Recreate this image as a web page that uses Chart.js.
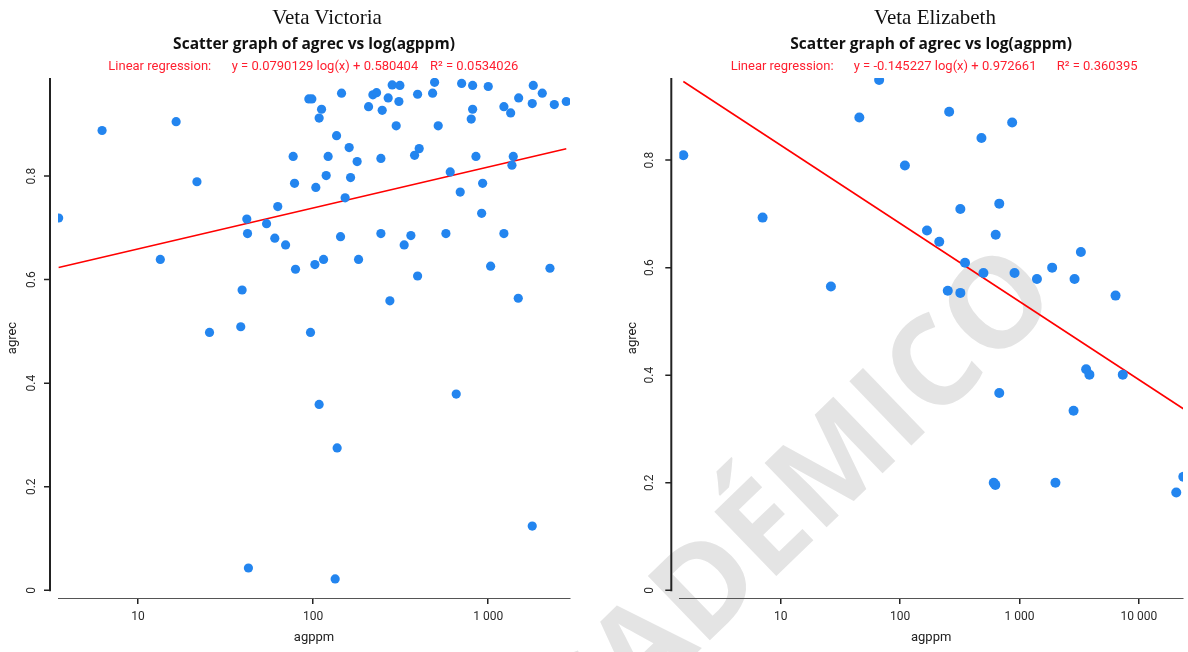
<!DOCTYPE html>
<html>
<head>
<meta charset="utf-8">
<script src="https://cdn.jsdelivr.net/npm/chart.js@4.4.1/dist/chart.umd.min.js"></script>
<style>
  html, body { margin: 0; padding: 0; background: #ffffff; }
  #page { position: relative; width: 1188px; height: 652px; overflow: hidden; background: #ffffff; }
  #stamp { position: absolute; left: 0; top: 0; z-index: 0; }
  .panel { position: absolute; top: 0; height: 652px; z-index: 1; }
  .caption { position: absolute; top: 7px; font-family: "Liberation Serif", "Times New Roman", serif;
             font-size: 21px; line-height: 21px; color: #111; white-space: nowrap; z-index: 2;
             transform: translateX(-50%); }
</style>
</head>
<body>
<div id="page">
  <svg id="stamp" width="1188" height="652">
    <text x="1062" y="300" text-anchor="end" transform="rotate(-44 1062 300)"
          font-family="Open Sans, Noto Sans, sans-serif" font-weight="bold" font-size="125"
          fill="#e4e4e4">ACADÉMICO</text>
  </svg>
  <div class="caption" style="left:327px">Veta Victoria</div>
  <div class="caption" style="left:935px">Veta Elizabeth</div>
  <div class="panel" style="left:0; width:600px"><canvas id="victoria" width="600" height="652"></canvas></div>
  <div class="panel" style="left:600px; width:588px"><canvas id="elizabeth" width="588" height="652"></canvas></div>
</div>
<script>
// Veta Victoria: silver grade (agppm) and recovery (agrec) per sample
const victoriaAgppm = [3.52, 6.23, 13.4, 16.5, 21.7, 25.6, 38.6, 39.3, 41.8, 42.2, 42.7, 54.2, 60.4, 62.8, 69.6,
  76.9, 78.3, 79.3, 94.5, 98.3, 96.6, 103.6, 102.3, 108.2, 111.7, 108.2, 114.7, 118.7, 121.8, 136.1,
  133.6, 137.1, 145.3, 143.4, 152.3, 160.6, 163.6, 178.4, 181.7, 207.3, 219.4, 230.3, 243.8, 243.8,
  248, 268.3, 274.4, 282.8, 298.1, 308.9, 313, 331.1, 361.6, 379.6, 395, 403.4, 395, 481.2, 494,
  518, 573.2, 606.7, 656.4, 691.8, 704.7, 799.6, 814.5, 814.5, 850.6, 917.1, 928.9, 1000, 1032,
  1229, 1229, 1343, 1366, 1390, 1484, 1492, 1784, 1784, 1808, 2035, 2252, 2384, 2791];
const victoriaAgrec = [0.719, 0.888, 0.639, 0.905, 0.789, 0.498, 0.509, 0.580, 0.717, 0.689, 0.043, 0.708, 0.680, 0.741, 0.667,
  0.838, 0.786, 0.620, 0.949, 0.949, 0.498, 0.778, 0.629, 0.912, 0.929, 0.359, 0.639, 0.801, 0.838, 0.878,
  0.022, 0.275, 0.960, 0.683, 0.758, 0.855, 0.797, 0.828, 0.639, 0.934, 0.957, 0.961, 0.834, 0.689,
  0.927, 0.951, 0.559, 0.976, 0.897, 0.944, 0.975, 0.667, 0.685, 0.840, 0.607, 0.853, 0.958, 0.960, 0.981,
  0.897, 0.689, 0.808, 0.379, 0.769, 0.979, 0.910, 0.975, 0.929, 0.838, 0.728, 0.786, 0.973, 0.626,
  0.934, 0.689, 0.922, 0.821, 0.838, 0.564, 0.951, 0.940, 0.124, 0.975, 0.960, 0.622, 0.938, 0.944];
// slope, intercept, R²  (y = slope·log10(x) + intercept)
const victoriaFit = [0.0790129, 0.580404, 0.0534026];

// Veta Elizabeth
const elizabethAgppm = [1.525, 7.04, 26.3, 45.5, 66.7, 109.6, 167.8, 212.7, 250.7, 257.5, 319.5, 319.5, 349.7,
  480, 498.8, 608.5, 627.4, 632, 677, 677, 868, 908.9, 1400, 1878, 2001, 2839, 2893, 3269, 3618, 3854,
  6383, 7337, 20590, 23600];
const elizabethAgrec = [0.809, 0.693, 0.565, 0.879, 0.949, 0.790, 0.669, 0.648, 0.557, 0.890, 0.709, 0.553, 0.609,
  0.841, 0.590, 0.200, 0.196, 0.661, 0.719, 0.367, 0.870, 0.590, 0.579, 0.600, 0.200, 0.334, 0.579, 0.629, 0.411, 0.401,
  0.548, 0.401, 0.182, 0.211];
const elizabethFit = [-0.145227, 0.972661, 0.360395];

// axis ticks
const agrecTicks = [0, 0.2, 0.4, 0.6, 0.8];
const victoriaXTicks = [10, 100, 1000];
const victoriaXLabels = ['10', '100', '1 000'];
const elizabethXTicks = [10, 100, 1000, 10000];
const elizabethXLabels = ['10', '100', '1 000', '10 000'];

const POINT_BLUE = '#2385ef';
const FIT_RED = '#ff0000';
const TEXT_RED = '#ff1f2f';
const AXIS_DARK = '#222222';
const UI_FONT = 'Roboto, "Noto Sans", sans-serif';

Chart.defaults.font.family = UI_FONT;
Chart.defaults.color = '#2a2a2a';

function toPoints(xs, ys) {
  return xs.map((x, i) => ({ x: x, y: ys[i] }));
}

// straight fit on a log-x axis: evaluate the stated equation at the data extremes
function fitSegment(xs, fit) {
  const lo = Math.min(...xs), hi = Math.max(...xs);
  return [lo, hi].map(x => ({ x: x, y: fit[0] * Math.log10(x) + fit[1] }));
}

// y axis drawn as a detached line that stops at 0, with outward ticks
const detachedYAxis = {
  id: 'detachedYAxis',
  afterDraw(chart, args, opts) {
    const { ctx, chartArea, scales } = chart;
    const y = scales.y;
    const x0 = chartArea.left - opts.gap;
    ctx.save();
    ctx.strokeStyle = AXIS_DARK;
    ctx.lineWidth = 2;
    ctx.beginPath();
    ctx.moveTo(x0, chartArea.top);
    ctx.lineTo(x0, y.getPixelForValue(0) + 1);
    ctx.stroke();
    ctx.lineWidth = 1.5;
    ctx.beginPath();
    y.ticks.forEach(t => {
      const py = y.getPixelForValue(t.value);
      ctx.moveTo(x0, py);
      ctx.lineTo(x0 - 6, py);
    });
    ctx.stroke();
    ctx.restore();
  }
};

// red regression caption under the chart title
const fitCaption = {
  id: 'fitCaption',
  afterDraw(chart, args, opts) {
    const { ctx, chartArea } = chart;
    const cx = (chartArea.left + chartArea.right) / 2;
    const fit = opts.fit;
    const pieces = [
      'Linear regression:',
      'y = ' + fit[0] + ' log(x) + ' + fit[1],
      'R\u00B2 = ' + fit[2]
    ];
    ctx.save();
    ctx.font = '13px ' + UI_FONT;
    ctx.fillStyle = TEXT_RED;
    ctx.textAlign = 'left';
    ctx.textBaseline = 'middle';
    pieces.forEach((p, i) => ctx.fillText(p, cx + opts.offsets[i], opts.y));
    ctx.restore();
  }
};

function buildChart(canvasId, cfg) {
  const pts = toPoints(cfg.xs, cfg.ys);
  return new Chart(document.getElementById(canvasId), {
    type: 'scatter',
    data: {
      datasets: [
        {
          type: 'scatter',
          data: pts,
          pointRadius: cfg.radius,
          pointHoverRadius: cfg.radius,
          backgroundColor: POINT_BLUE,
          borderWidth: 0,
          clip: 0,
          order: 1
        },
        {
          type: 'line',
          data: fitSegment(cfg.xs, cfg.fit),
          borderColor: FIT_RED,
          borderWidth: 1.6,
          pointRadius: 0,
          fill: false,
          tension: 0,
          clip: 0,
          order: 2
        }
      ]
    },
    options: {
      responsive: false,
      animation: false,
      layout: { padding: { left: 0, right: cfg.padRight, top: 0, bottom: 0 } },
      plugins: {
        legend: { display: false },
        tooltip: { enabled: false },
        title: {
          display: true,
          text: 'Scatter graph of agrec vs log(agppm)',
          fullSize: false,
          color: '#111111',
          font: { family: '"Open Sans", "Noto Sans", sans-serif', size: 15.5, weight: 'bold', lineHeight: 1.2 },
          padding: { top: 35.7, bottom: 23.7 }
        },
        detachedYAxis: { gap: 8 },
        fitCaption: { fit: cfg.fit, offsets: cfg.captionOffsets, y: 67 }
      },
      scales: {
        x: {
          type: 'logarithmic',
          position: 'bottom',
          min: cfg.xMin,
          max: cfg.xMax,
          afterBuildTicks: axis => { axis.ticks = cfg.xTicks.map(v => ({ value: v, major: true })); },
          afterFit: axis => { axis.height = 54; },
          ticks: {
            autoSkip: false,
            maxRotation: 0,
            padding: 6,
            color: '#2a2a2a',
            font: { size: 12 },
            callback: (v, i) => cfg.xLabels[i]
          },
          grid: { display: true, drawOnChartArea: false, drawTicks: true, tickLength: 6, color: AXIS_DARK, lineWidth: 1.5 },
          border: { display: true, color: '#555555', width: 1 },
          title: { display: true, text: 'agppm', color: '#222222', font: { size: 13 }, padding: { top: 0, bottom: 6.2 } }
        },
        y: {
          type: 'linear',
          position: 'left',
          min: cfg.yMin,
          max: cfg.yMax,
          afterBuildTicks: axis => { axis.ticks = agrecTicks.map(v => ({ value: v })); },
          afterFit: axis => { axis.width = cfg.yWidth; },
          ticks: {
            minRotation: 90,
            maxRotation: 90,
            crossAlign: 'center',
            padding: cfg.yLabelPad,
            color: '#2a2a2a',
            font: { size: 12 },
            callback: v => String(v)
          },
          grid: { display: false, drawTicks: false },
          border: { display: false },
          title: { display: true, text: 'agrec', color: '#222222', font: { size: 13 }, padding: { top: cfg.yTitlePad, bottom: 0 } }
        }
      }
    },
    plugins: [detachedYAxis, fitCaption]
  });
}

buildChart('victoria', {
  xs: victoriaAgppm, ys: victoriaAgrec, fit: victoriaFit,
  xTicks: victoriaXTicks, xLabels: victoriaXLabels,
  xMin: 3.49, xMax: 2931, yMin: -0.0149, yMax: 0.9894,
  yWidth: 58, padRight: 30, yLabelPad: 17.6, yTitlePad: 4.7,
  radius: 4.6, captionOffsets: [-205.7, -82.3, 116]
});

buildChart('elizabeth', {
  xs: elizabethAgppm, ys: elizabethAgrec, fit: elizabethFit,
  xTicks: elizabethXTicks, xLabels: elizabethXLabels,
  xMin: 1.411, xMax: 23450, yMin: -0.0143, yMax: 0.9526,
  yWidth: 79.3, padRight: 0, yLabelPad: 20.9, yTitlePad: 24.7,
  radius: 5, captionOffsets: [-200.5, -77.5, 125.5]
});
</script>
</body>
</html>
